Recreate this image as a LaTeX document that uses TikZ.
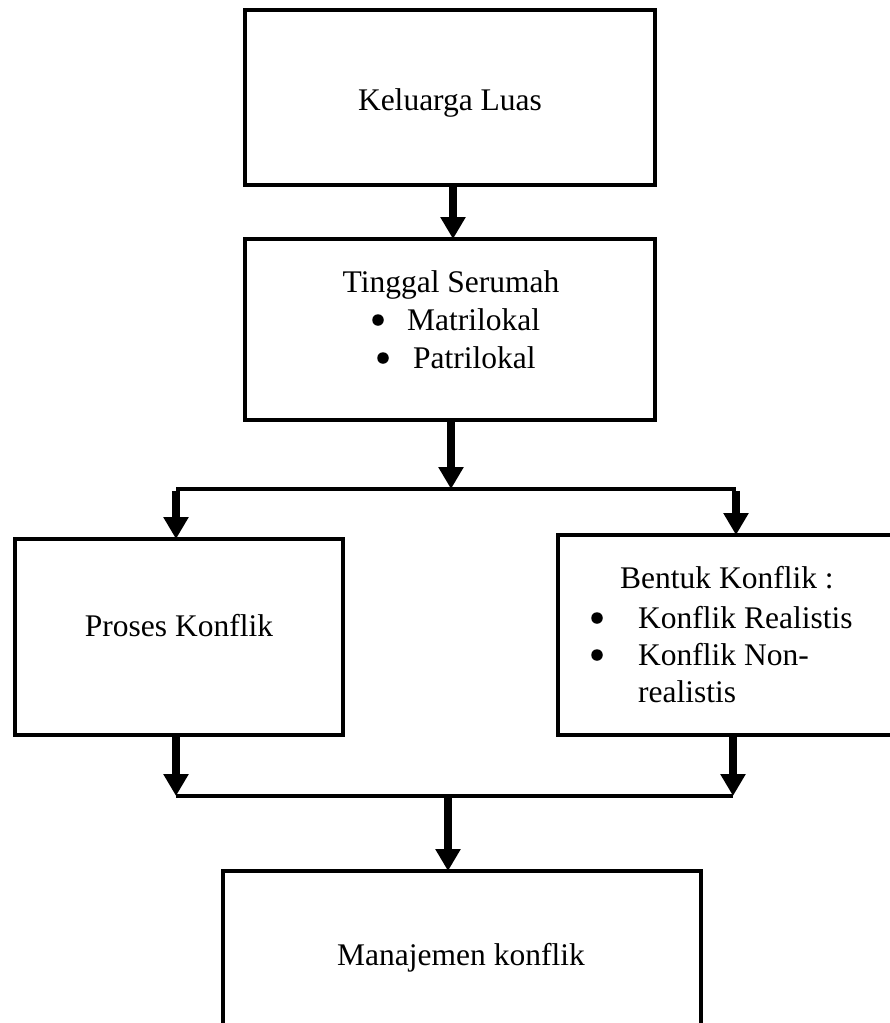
\documentclass[tikz,border=0pt]{standalone}
\usepackage{fontspec}
\setmainfont{Liberation Serif}
\usetikzlibrary{arrows.meta}
\tikzset{
  box/.style={draw, line width=3.6pt, inner sep=0pt, outer sep=0pt},
  txt/.style={inner sep=0pt, font=\fontsize{31.5pt}{38pt}\selectfont},
  bul/.style={circle, fill, inner sep=0pt, minimum size=11.5pt},
  arr/.style={line width=8pt, -{Triangle[width=24pt,length=22pt]}},
  conn/.style={line width=3.8pt}
}
\begin{document}
\begin{tikzpicture}[x=1pt,y=-1pt]
\useasboundingbox (0,0) rectangle (890,1023);
% boxes
\node[box, minimum width=410pt, minimum height=175pt] (b1) at (450,97.5) {};
\node[box, minimum width=410pt, minimum height=181pt] (b2) at (450,329.5) {};
\node[box, minimum width=328pt, minimum height=196pt] (pk) at (179,637) {};
\node[box, minimum width=350pt, minimum height=200pt] (bk) at (733,635) {};
\node[box, minimum width=478pt, minimum height=190pt] (mk) at (462,966) {};
% texts
\node[txt, anchor=base] (t1) at (450,110) {Keluarga Luas};
\node[txt, anchor=base] (t2) at (451,292) {Tinggal Serumah};
\node[bul] (t2b1) at (378,320) {};
\node[txt, anchor=base west] (t2a) at (407,330) {Matrilokal};
\node[bul] (t2b2) at (383,358) {};
\node[txt, anchor=base west] (t2c) at (413,368) {Patrilokal};
\node[txt, anchor=base] (t3) at (179,636) {Proses Konflik};
\node[txt, anchor=base west] (t4) at (620,588) {Bentuk Konflik :};
\node[bul] (t4b1) at (597,618) {};
\node[txt, anchor=base west] (t4a) at (638,628) {Konflik Realistis};
\node[bul] (t4b2) at (597,655) {};
\node[txt, anchor=base west] (t4c) at (638,665) {Konflik Non-};
\node[txt, anchor=base west] (t4d) at (638,702) {realistis};
\node[txt, anchor=base] (t5) at (461,965) {Manajemen konflik};
% junction coordinates
\coordinate (sp) at (451,489);
\coordinate (sl) at (176,489);
\coordinate (sr) at (736,489);
\coordinate (ml) at (176,796);
\coordinate (mr) at (733,796);
\coordinate (mm) at (448,796);
% connectors
\draw[arr] (b1.south -| 453,0) -- (b2.north -| 453,0);
\draw[arr] (b2.south -| sp) -- (sp);
\draw[conn] (sl) -- (sr);
\draw[arr] ([yshift=-1.9pt]sl) -- (sl |- pk.north);
\draw[arr] ([yshift=-1.9pt]sr) -- (sr |- bk.north);
\draw[arr] (pk.south -| ml) -- (ml);
\draw[arr] (bk.south -| mr) -- (mr);
\draw[conn] (ml) -- (mr);
\draw[arr] ([yshift=-1.9pt]mm) -- (mm |- mk.north);
\end{tikzpicture}
\end{document}
